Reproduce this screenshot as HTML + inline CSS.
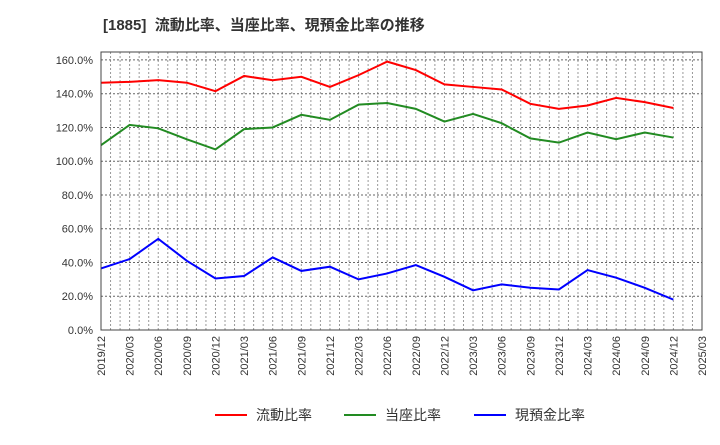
<!DOCTYPE html>
<html><head><meta charset="utf-8"><style>
body{margin:0;background:#fff;font-family:"Liberation Sans","Noto Sans CJK JP",sans-serif;}
svg text{font-family:"Liberation Sans","Noto Sans CJK JP",sans-serif;}
</style></head><body>
<svg id="c" width="720" height="440" xmlns="http://www.w3.org/2000/svg">
<text x="103" y="30" font-size="15" font-weight="bold" fill="#333" xml:space="preserve">[1885]  流動比率、当座比率、現預金比率の推移</text>
<g id="grid"></g><g id="axes"></g><g id="series"></g>
<rect x="101" y="52" width="601" height="278" fill="none" stroke="#444" stroke-width="1"/>
<g>
<line x1="215" y1="415" x2="247" y2="415" stroke="#f00" stroke-width="2"/><text x="256" y="420" font-size="14" fill="#333">流動比率</text>
<line x1="344" y1="415" x2="376" y2="415" stroke="#228b22" stroke-width="2"/><text x="385" y="420" font-size="14" fill="#333">当座比率</text>
<line x1="474" y1="415" x2="506" y2="415" stroke="#00f" stroke-width="2"/><text x="515" y="420" font-size="14" fill="#333">現預金比率</text>
</g>
</svg>
<script>
const categories=["2019/12","2020/03","2020/06","2020/09","2020/12","2021/03","2021/06","2021/09","2021/12","2022/03","2022/06","2022/09","2022/12","2023/03","2023/06","2023/09","2023/12","2024/03","2024/06","2024/09","2024/12","2025/03"];
const current=[146.5,147,148,146.5,141.5,150.5,148,150,144,151,159,154,145.5,144,142.5,134,131,133,137.5,135,131.5];
const quick=[109.5,121.5,119.5,113,107,119,120,127.5,124.5,133.5,134.5,131,123.5,128,122.5,113.5,111,117,113,117,114];
const cash=[36.5,42,54,41,30.5,32,43,35,37.5,30,33.5,38.5,31.5,23.5,27,25,24,35.5,31,25,18];
const yTicks=[0,20,40,60,80,100,120,140,160];
const NS="http://www.w3.org/2000/svg";
const L=101,R=702,T=52,B=330;
const x=i=>L+i*(R-L)/(categories.length-1);
const y=v=>B-v*(B-T)/164.7;
function mk(t,a,p){const e=document.createElementNS(NS,t);for(const k in a)e.setAttribute(k,a[k]);p.appendChild(e);return e;}
const g=document.getElementById('grid'),ax=document.getElementById('axes'),s=document.getElementById('series');
for(let m=0;m<=63;m++){const xx=L+m*(R-L)/63;
const l=mk('line',{x1:xx,x2:xx,y1:T,y2:B,stroke:'#999','stroke-width':1,'stroke-dasharray':'2,2'},g);

}
yTicks.forEach(v=>{const l=mk('line',{x1:L,x2:R,y1:y(v),y2:y(v),stroke:'#666','stroke-width':1,'stroke-dasharray':'2,2'},g);


const t=mk('text',{x:93,y:y(v)+4,'text-anchor':'end','font-size':11,fill:'#333'},ax);t.textContent=v.toFixed(1)+'%';

});
categories.forEach((c,i)=>{const t=mk('text',{x:0,y:0,'text-anchor':'end','font-size':11,fill:'#333',transform:`translate(${x(i)+4},336) rotate(-90)`},ax);t.textContent=c;

});
[[current,'#f00','current-ratio-line'],[quick,'#228b22','quick-ratio-line'],[cash,'#00f','cash-ratio-line']].forEach(([d,col,n])=>{
const p=mk('polyline',{points:d.map((v,i)=>x(i)+','+y(v)).join(' '),fill:'none',stroke:col,'stroke-width':2},s);

});
</script>
</body></html>
